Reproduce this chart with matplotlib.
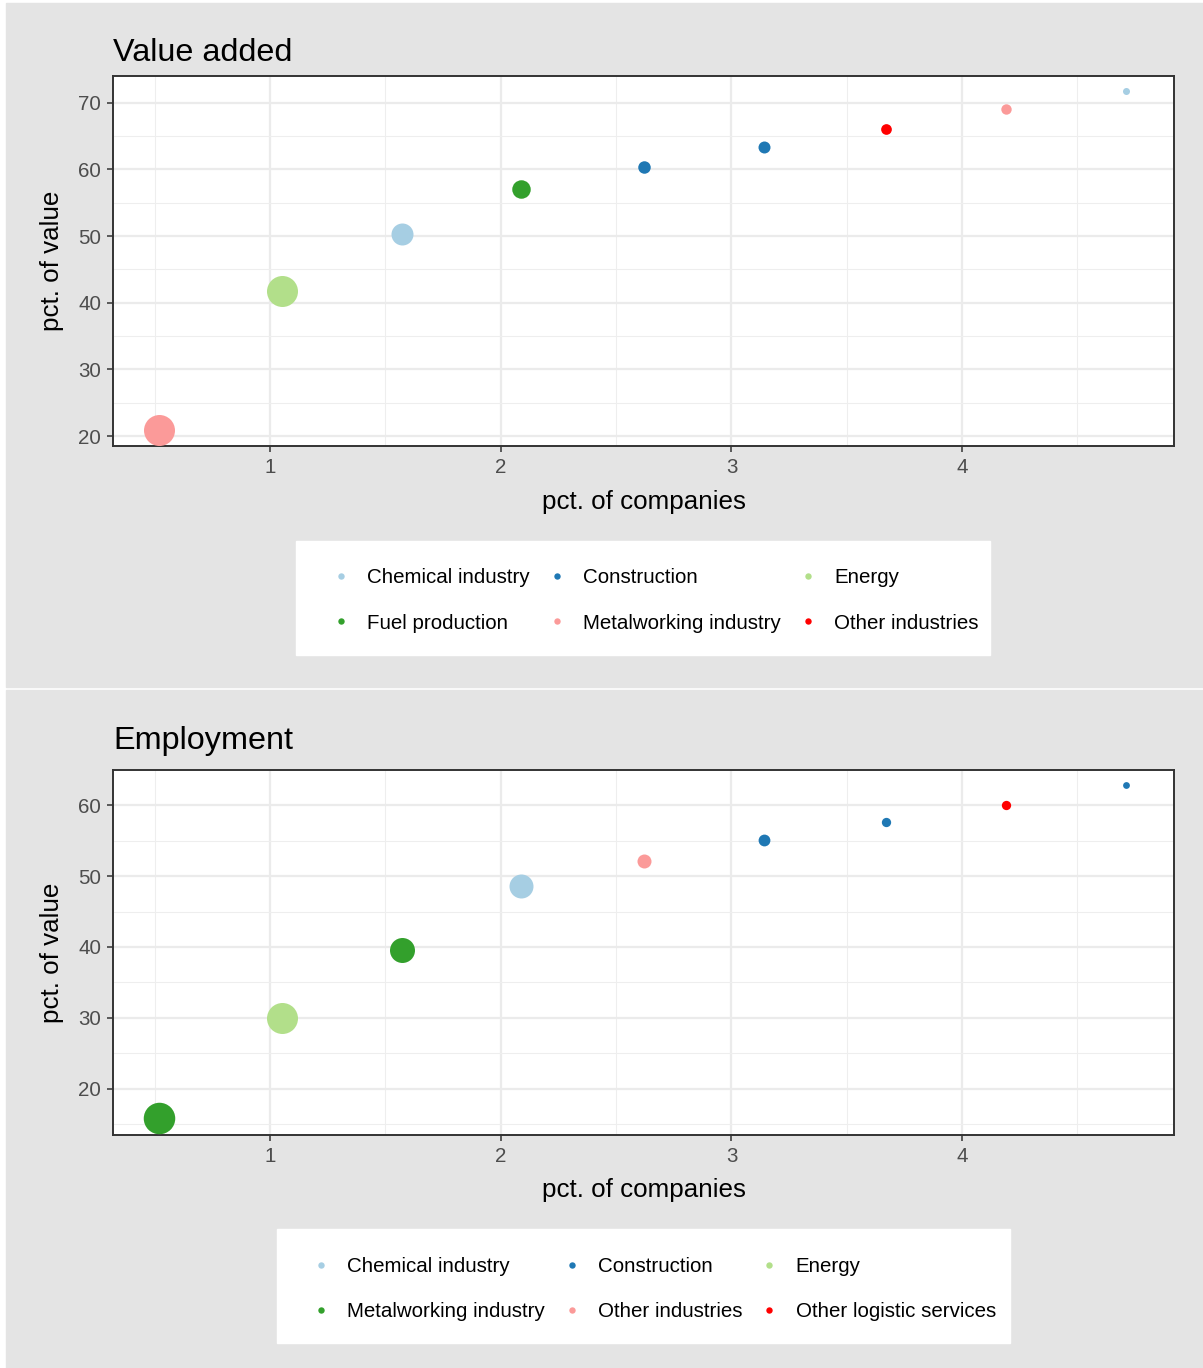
import matplotlib
matplotlib.use("Agg")
import matplotlib.pyplot as plt
from matplotlib.patches import Rectangle
from matplotlib.lines import Line2D

plt.rcParams['font.family'] = ['Liberation Sans', 'DejaVu Sans']

# --- data ------------------------------------------------------------------
pct_companies = [0.52, 1.05, 1.57, 2.09, 2.62, 3.14, 3.67, 4.19, 4.71]

va_pct = [20.9, 41.7, 50.3, 57.1, 60.4, 63.4, 66.1, 69.0, 71.7]
va_sector = ["Metalworking industry", "Energy", "Chemical industry",
             "Fuel production", "Construction", "Construction",
             "Other industries", "Metalworking industry", "Chemical industry"]
va_weight = [31, 31, 22, 18.5, 12.5, 12, 10.7, 10.4, 7]

emp_pct = [15.8, 30.0, 39.6, 48.6, 52.1, 55.1, 57.6, 60.1, 62.8]
emp_sector = ["Metalworking industry", "Energy", "Metalworking industry",
              "Chemical industry", "Other industries", "Construction",
              "Construction", "Other logistic services", "Construction"]
emp_weight = [31.5, 31, 25, 24, 14, 11.8, 9.3, 9.3, 6.8]

va_legend = ["Chemical industry", "Construction", "Energy",
             "Fuel production", "Metalworking industry", "Other industries"]
emp_legend = ["Chemical industry", "Construction", "Energy",
              "Metalworking industry", "Other industries", "Other logistic services"]

# colour brewer "Paired" order, red replaced by pure red as in the picture
palette = ["#A6CEE3", "#1F78B4", "#B2DF8A", "#33A02C", "#FB9A99", "#FF0000"]

W, H = 1203, 1368
BG = "#E4E4E4"


def fx(px):
    return px / W


def fy(py):
    return 1 - py / H


def draw_panel(fig, top, bottom, title, title_base, ypct, sectors, weights,
               legend_names, ylim, yticks, yminor, xlabel_y, legend_rect, legend_anchor):
    ax = fig.add_axes([fx(113), fy(bottom), fx(1174) - fx(113), (bottom - top) / H])
    ax.set_facecolor("white")
    colors = dict(zip(legend_names, palette))

    for x, y, s, w in zip(pct_companies, ypct, sectors, weights):
        ax.scatter(x, y, s=(w * 0.72) ** 2, color=colors[s], linewidths=0, zorder=3)

    ax.set_xlim(0.319, 4.919)
    ax.set_ylim(*ylim)
    ax.set_xticks([1, 2, 3, 4])
    ax.set_xticks([0.5, 1.5, 2.5, 3.5, 4.5], minor=True)
    ax.set_yticks(yticks)
    ax.set_yticks(yminor, minor=True)
    ax.grid(which="major", color="#EBEBEB", linewidth=1.6, zorder=0)
    ax.grid(which="minor", color="#EEEEEE", linewidth=0.8, zorder=0)
    ax.set_axisbelow(True)
    ax.tick_params(which="major", length=4.5, width=1.1, color="#333333",
                   labelsize=14.8, labelcolor="#4D4D4D", pad=4)
    ax.tick_params(which="minor", length=0)
    for sp in ax.spines.values():
        sp.set_color("#333333")
        sp.set_linewidth(1.4)

    fig.text(fx(113), fy(title_base), title, fontsize=23.3, ha="left", va="baseline")
    fig.text(fx(643.5), fy(xlabel_y), "pct. of companies", fontsize=18.7,
             ha="center", va="center")
    fig.text(fx(52), fy((top + bottom) / 2), "pct. of value", fontsize=18.7,
             ha="center", va="center", rotation=90)

    # white legend box, then the keys laid out row by row like ggplot
    x0, y0, x1, y1 = legend_rect
    fig.patches.append(Rectangle((fx(x0), fy(y1)), fx(x1) - fx(x0), fy(y0) - fy(y1),
                                 transform=fig.transFigure, color="white", zorder=-5))
    order = [0, 3, 1, 4, 2, 5]
    handles = [Line2D([], [], linestyle="none", marker="o", markersize=4.6,
                      markeredgewidth=0, color=palette[i]) for i in order]
    labels = [legend_names[i] for i in order]
    fig.legend(handles, labels, loc="center left",
               bbox_to_anchor=(fx(legend_anchor[0]), fy(legend_anchor[1])),
               ncol=3, fontsize=14.8, frameon=False, borderpad=0,
               labelspacing=1.28, handlelength=0.6, handletextpad=0.98,
               columnspacing=1.0, borderaxespad=0)
    return ax


fig = plt.figure(figsize=(W / 100, H / 100), dpi=100)
fig.patch.set_facecolor("white")
fig.patches.append(Rectangle((fx(6), fy(687)), 1 - fx(6), fy(3) - fy(687),
                             transform=fig.transFigure, color=BG, zorder=-10))
fig.patches.append(Rectangle((fx(6), 0), 1 - fx(6), fy(690),
                             transform=fig.transFigure, color=BG, zorder=-10))

draw_panel(fig, 76, 446.5, "Value added", 61, va_pct, va_sector, va_weight,
           va_legend, (18.45, 74.0), [20, 30, 40, 50, 60, 70],
           [25, 35, 45, 55, 65], 502, (296, 541, 990, 655), (335, 600.5))
draw_panel(fig, 770, 1135, "Employment", 749, emp_pct, emp_sector, emp_weight,
           emp_legend, (13.46, 64.98), [20, 30, 40, 50, 60],
           [15, 25, 35, 45, 55], 1190, (277, 1229, 1010, 1343), (315, 1289))

fig.savefig("out.png", dpi=100, facecolor=fig.get_facecolor())
